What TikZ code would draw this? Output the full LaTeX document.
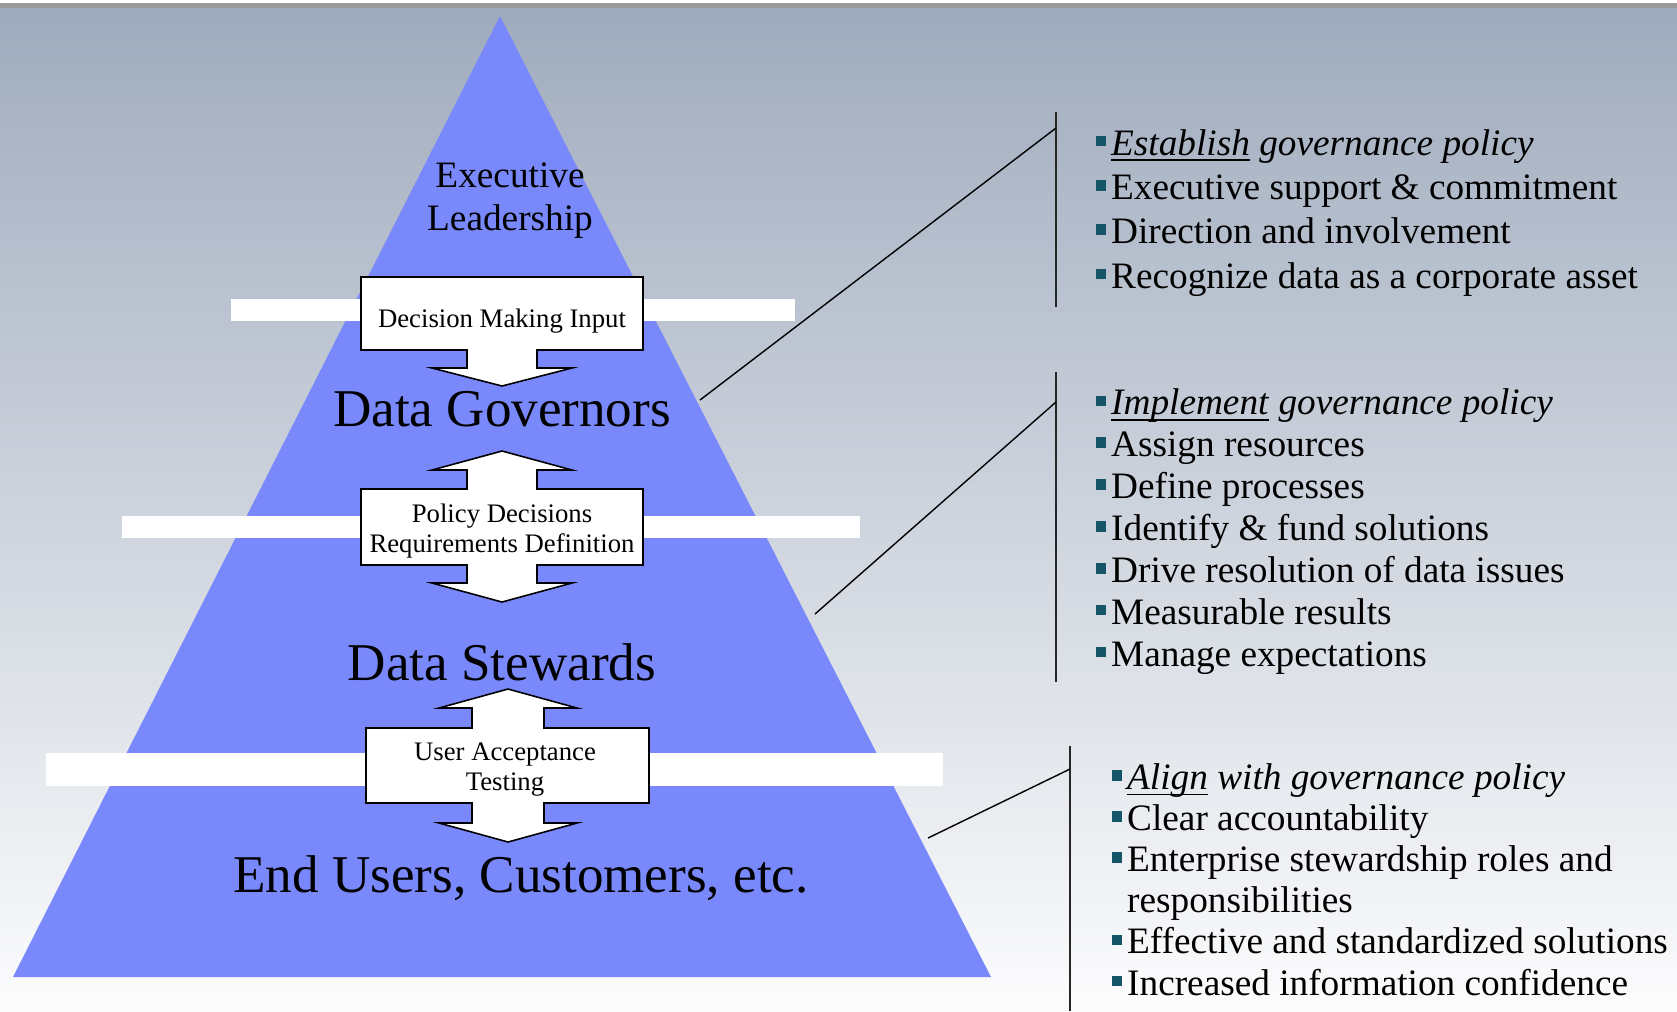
\documentclass[tikz,border=0pt]{standalone}
\usepackage{fontspec}
\setmainfont{Liberation Serif}
\usetikzlibrary{positioning, calc}

\definecolor{pyramidblue}{RGB}{121,137,251}
\definecolor{skytop}{RGB}{159,171,189}
\definecolor{skybottom}{RGB}{252,252,253}
\definecolor{bulletteal}{RGB}{22,84,104}
\newcommand{\sqbul}{{\color{bulletteal}\rule[2.5pt]{3pt}{3pt}}\hspace{1.4pt}}
\newcommand{\keyword}[1]{\underline{\smash{\textit{#1}}}}

\begin{document}
\begin{tikzpicture}[
        x=0.01cm, y=-0.01cm,
        tier/.style={font=\fontsize{15.1}{18}\selectfont, inner sep=0pt, anchor=base},
        apexlabel/.style={font=\fontsize{10.6}{12}\selectfont, align=center, inner sep=0pt, anchor=base},
        boxlabel/.style={font=\fontsize{7.6}{8.4}\selectfont, align=center, inner sep=0pt, anchor=base},
        callout/.style={draw, line width=0.45pt, fill=white, line join=miter},
        band/.style={fill=white},
        items/.style={align=left, inner sep=0pt, anchor=base west}, % base = last line
        divider/.style={line width=0.6pt, black!85},
        link/.style={line width=0.4pt}
    ]
    % page and backdrop
    \useasboundingbox (0,0) rectangle (1677,1011);
    \fill[black!40] (0,3) rectangle (1677,8);
    \shade[top color=skytop, bottom color=skybottom] (0,8) rectangle (1677,1011);

    % pyramid
    \fill[pyramidblue] (500,16) -- (991,977) -- (13,977) -- cycle;

    % white bands across the pyramid
    \fill[band] (231,299) rectangle (795,321);
    \fill[band] (122,516) rectangle (860,538);
    \fill[band] (46,753) rectangle (943,786);

    % arrow callouts
    \draw[callout] (361,277) -- (643,277) -- (643,350) -- (537,350) -- (537,368) -- (572,368) -- (502,386)
        -- (432,368) -- (467,368) -- (467,350) -- (361,350) -- cycle;
    \draw[callout] (502,451) -- (572,470) -- (537,470) -- (537,489) -- (643,489) -- (643,565) -- (537,565)
        -- (537,583) -- (572,583) -- (502,602) -- (432,583) -- (467,583) -- (467,565) -- (361,565)
        -- (361,489) -- (467,489) -- (467,470) -- (432,470) -- cycle;
    \draw[callout] (508,689) -- (577,708) -- (544,708) -- (544,728) -- (649,728) -- (649,803) -- (544,803)
        -- (544,823) -- (577,823) -- (508,842) -- (439,823) -- (472,823) -- (472,803) -- (366,803)
        -- (366,728) -- (472,728) -- (472,708) -- (439,708) -- cycle;

    % tiers
    \node[apexlabel] (exec) at (510,230) {Executive\\Leadership};
    \node[tier] (governors) at (502,426) {Data Governors};
    \node[tier] (stewards) at (502,680) {Data Stewards};
    \node[tier] (users) at (521,892) {End Users, Customers, etc.};

    % callout texts
    \node[boxlabel] (input) at (502,327) {Decision Making Input};
    \node[boxlabel] (policy) at (502,552) {Policy Decisions\\Requirements Definition};
    \node[boxlabel] (uat) at (505,790) {User Acceptance\\Testing};

    % right hand lists
    \node[items, font=\fontsize{10.6}{12.6}\selectfont] (establish) at (1095,288) {%
        \sqbul\keyword{Establish} \textit{governance policy}\\
        \sqbul Executive support \& commitment\\
        \sqbul Direction and involvement\\
        \sqbul Recognize data as a corporate asset};
    \node[items, font=\fontsize{10.6}{11.9}\selectfont] (implement) at (1095,666) {%
        \sqbul\keyword{Implement} \textit{governance policy}\\
        \sqbul Assign resources\\
        \sqbul Define processes\\
        \sqbul Identify \& fund solutions\\
        \sqbul Drive resolution of data issues\\
        \sqbul Measurable results\\
        \sqbul Manage expectations};
    \node[items, font=\fontsize{10.6}{11.7}\selectfont] (align) at (1111,995) {%
        \sqbul\keyword{Align} \textit{with governance policy}\\
        \sqbul Clear accountability\\
        \sqbul Enterprise stewardship roles and\\
        \phantom{\sqbul}responsibilities\\
        \sqbul Effective and standardized solutions\\
        \sqbul Increased information confidence};

    % brackets
    \draw[divider] (1056,112) -- (1056,307);
    \draw[divider] (1056,372) -- (1056,682);
    \draw[divider] (1070,746) -- (1070,1011);

    % leader lines
    \coordinate (govedge) at (700,400);
    \coordinate (govmark) at (1056,128);
    \coordinate (stewedge) at (815,614);
    \coordinate (stewmark) at (1056,402);
    \coordinate (useredge) at (928,838);
    \coordinate (usermark) at (1070,769);
    \draw[link] (govedge) -- (govmark);
    \draw[link] (stewedge) -- (stewmark);
    \draw[link] (useredge) -- (usermark);
\end{tikzpicture}
\end{document}
